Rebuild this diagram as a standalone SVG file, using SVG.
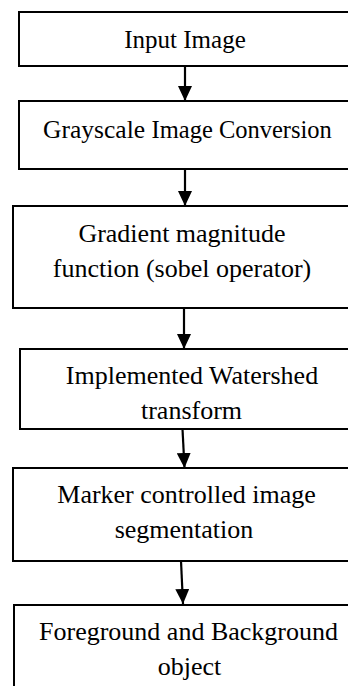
<svg xmlns="http://www.w3.org/2000/svg" width="348" height="686" viewBox="0 0 348 686">
<defs>
<style>
.box{fill:#fff;stroke:#000;stroke-width:2}
.t{font-family:'Liberation Serif','DejaVu Serif','Noto Serif',serif;font-size:26px;fill:#000;text-anchor:middle}
.c{stroke:#000;stroke-width:2.2;fill:none;marker-end:url(#ah)}
</style>
<marker id="ah" markerUnits="userSpaceOnUse" markerWidth="16" markerHeight="14" refX="15" refY="7" orient="auto" viewBox="0 0 16 14">
<path d="M0,0 L15,7 L0,14 Z" fill="#000"/>
</marker>
</defs>
<rect width="348" height="686" fill="#fff"/>
<g id="n1"><rect class="box" x="19" y="12" width="340" height="54"/><text class="t" x="185" y="48" style="font-size:25px">Input Image</text></g>
<g id="n2"><rect class="box" x="19" y="101" width="340" height="68"/><text class="t" x="187.5" y="138"><tspan style="font-size:25.5px">Grayscale</tspan> <tspan style="font-size:24.5px">Image Conversion</tspan></text></g>
<g id="n3"><rect class="box" x="13" y="206" width="346" height="102"/><text class="t" x="182" y="242">Gradient magnitude</text><text class="t" x="182" y="277">function (sobel operator)</text></g>
<g id="n4"><rect class="box" x="20" y="349" width="340" height="80"/><text class="t" x="192" y="384">Implemented Watershed</text><text class="t" x="191.5" y="419">transform</text></g>
<g id="n5"><rect class="box" x="13" y="468" width="346" height="93"/><text class="t" x="186.5" y="503">Marker controlled image</text><text class="t" x="184" y="538">segmentation</text></g>
<g id="n6"><rect class="box" x="14" y="605" width="346" height="100"/><text class="t" x="188.5" y="640">Foreground and Background</text><text class="t" x="189.5" y="675">object</text></g>
<g id="connectors">
<line class="c" x1="185" y1="66" x2="185" y2="101"/>
<line class="c" x1="185" y1="169" x2="185" y2="206"/>
<line class="c" x1="184" y1="308" x2="184" y2="349"/>
<line class="c" x1="182.5" y1="429" x2="184.5" y2="468"/>
<line class="c" x1="181" y1="561" x2="183" y2="604"/>
</g>
</svg>
